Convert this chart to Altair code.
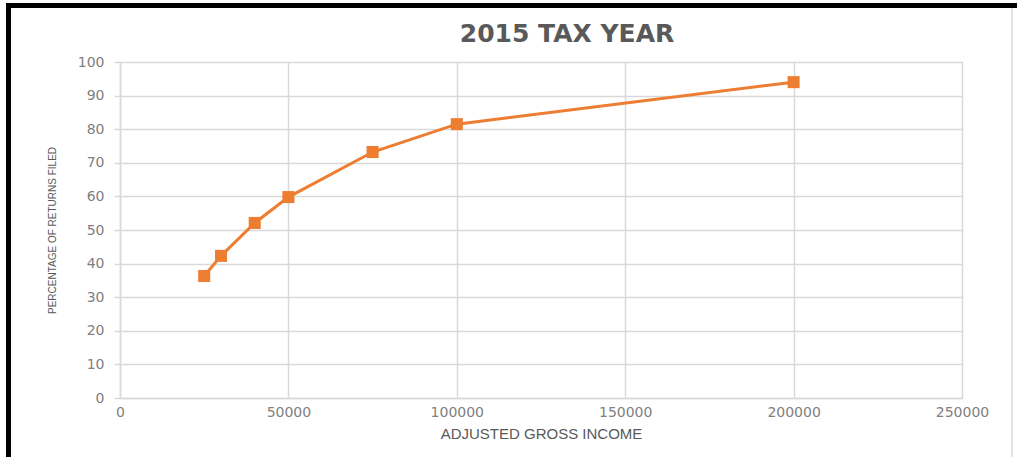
import altair as alt
import pandas as pd

# Data
income = [25000, 30000, 40000, 50000, 75000, 100000, 200000]
pct_filed = [36.3, 42.3, 52.1, 59.8, 73.2, 81.5, 94.0]

x_ticks = [0, 50000, 100000, 150000, 200000, 250000]
y_ticks = [0, 10, 20, 30, 40, 50, 60, 70, 80, 90, 100]

title_text = "2015 TAX YEAR"
x_title = "ADJUSTED GROSS INCOME"
y_title = "PERCENTAGE OF RETURNS FILED"

df = pd.DataFrame({"income": income, "pct": pct_filed})

W, H = 842, 336
PAD_L, PAD_T = 120, 62

x_enc = alt.X(
    "income:Q",
    scale=alt.Scale(domain=[0, 250000], nice=False),
    axis=alt.Axis(
        values=x_ticks,
        format="d",
        title=x_title,
        titleFont="Liberation Sans",
        titleFontSize=15,
        titleFontWeight="normal",
        titleColor="#595959",
        titlePadding=7,
        labelFont="DejaVu Sans",
        labelFontSize=14,
        labelColor="#808080",
        labelPadding=7,
        labelFlush=False,
        ticks=False,
        domain=True,
        domainColor="#d9d9d9",
        domainWidth=1.5,
        gridColor="#d9d9d9",
        gridWidth=1.5,
        labelOverlap=False,
    ),
)
y_enc = alt.Y(
    "pct:Q",
    scale=alt.Scale(domain=[0, 100], nice=False),
    axis=alt.Axis(
        values=y_ticks,
        title=y_title,
        titleFont="Liberation Sans",
        titleFontSize=10,
        titleFontWeight="normal",
        titleColor="#595959",
        titlePadding=20,
        labelFont="DejaVu Sans",
        labelFontSize=14,
        labelColor="#808080",
        labelPadding=10,
        labelFlush=False,
        ticks=True,
        tickSize=6,
        tickColor="#d9d9d9",
        tickWidth=1.5,
        domain=True,
        domainColor="#d9d9d9",
        domainWidth=1.5,
        gridColor="#d9d9d9",
        gridWidth=1.5,
        labelOverlap=False,
    ),
)

base = alt.Chart(df).encode(x=x_enc, y=y_enc)
line = base.mark_line(color="#ED7D31", strokeWidth=3)
points = base.mark_point(
    shape="square", filled=True, color="#ED7D31", size=145, opacity=1
)

title = alt.Chart(pd.DataFrame({"t": [title_text]})).mark_text(
    font="DejaVu Sans",
    fontSize=25,
    fontWeight="bold",
    color="#595959",
    align="center",
    baseline="middle",
).encode(text="t:N", x=alt.value(447), y=alt.value(-28))

frame_df = pd.DataFrame({"k": [0]})
top_bar = alt.Chart(frame_df).mark_rect(color="black").encode(
    x=alt.value(-114), x2=alt.value(1017 - PAD_L), y=alt.value(-59), y2=alt.value(-54)
)
left_bar = alt.Chart(frame_df).mark_rect(color="black").encode(
    x=alt.value(-114), x2=alt.value(-109), y=alt.value(-59), y2=alt.value(457 - PAD_T)
)
right_line = alt.Chart(frame_df).mark_rect(color="#e4e4e4").encode(
    x=alt.value(1011 - PAD_L), x2=alt.value(1013 - PAD_L), y=alt.value(-54), y2=alt.value(457 - PAD_T)
)

chart = (
    alt.layer(line, points, title, top_bar, left_bar, right_line)
    .properties(
        width=W,
        height=H,
        autosize=alt.AutoSizeParams(type="none"),
        padding={"left": PAD_L, "top": PAD_T, "right": 1017 - PAD_L - W, "bottom": 457 - PAD_T - H},
        background="white",
    )
    .configure_view(stroke=None)
)

chart.save("out.html", embed_options={"renderer": "svg", "actions": False})
